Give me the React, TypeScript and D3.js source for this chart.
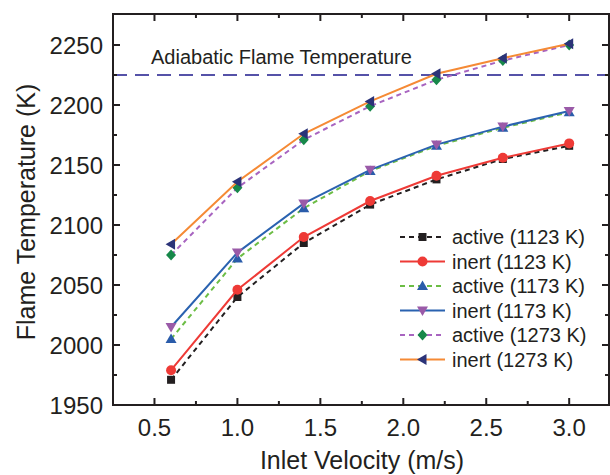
import React from "react";
import * as d3 from "d3";

const velocities = [0.6, 1.0, 1.4, 1.8, 2.2, 2.6, 3.0];
const active1123 = [1971, 2040, 2085, 2117, 2138, 2155, 2166];
const inert1123 = [1979, 2046, 2090, 2120, 2141, 2156, 2168];
const active1173 = [2005, 2072, 2114, 2145, 2166, 2181, 2194];
const inert1173 = [2015, 2077, 2118, 2146, 2167, 2182, 2195];
const active1273 = [2075, 2131, 2171, 2199, 2221, 2237, 2250];
const inert1273 = [2084, 2136, 2176, 2203, 2226, 2239, 2251];
const seriesNames = [
  "active (1123 K)",
  "inert (1123 K)",
  "active (1173 K)",
  "inert (1173 K)",
  "active (1273 K)",
  "inert (1273 K)",
];
const adiabaticTemp = 2225;
const xTicks = [0.5, 1.0, 1.5, 2.0, 2.5, 3.0];
const yTicks = [1950, 2000, 2050, 2100, 2150, 2200, 2250];

type Shape = "square" | "circle" | "up" | "down" | "diamond" | "left";
const seriesStyle: { line: string; dash: string | null; marker: string; shape: Shape }[] = [
  { line: "#231f20", dash: "5,4", marker: "#231f20", shape: "square" },
  { line: "#ee3a36", dash: null, marker: "#ee3a36", shape: "circle" },
  { line: "#6cbd45", dash: "5,4", marker: "#2a5caa", shape: "up" },
  { line: "#2a62b0", dash: null, marker: "#9a5aa8", shape: "down" },
  { line: "#a864c0", dash: "5,4", marker: "#17884a", shape: "diamond" },
  { line: "#f58a35", dash: null, marker: "#2b3378", shape: "left" },
];
const seriesValues = [active1123, inert1123, active1173, inert1173, active1273, inert1273];

const FONT = "'Liberation Sans', Arial, Helvetica, sans-serif";
const TXT = "#231f20";

function markerPath(shape: Shape, cx: number, cy: number): string {
  switch (shape) {
    case "square":
      return `M${cx - 4},${cy - 4}h8v8h-8z`;
    case "up":
      return `M${cx},${cy - 5.5}L${cx + 5.5},${cy + 4}L${cx - 5.5},${cy + 4}Z`;
    case "down":
      return `M${cx},${cy + 5.5}L${cx + 5.5},${cy - 4}L${cx - 5.5},${cy - 4}Z`;
    case "diamond":
      return `M${cx},${cy - 5.5}L${cx + 5},${cy}L${cx},${cy + 5.5}L${cx - 5},${cy}Z`;
    case "left":
      return `M${cx - 5.5},${cy}L${cx + 4},${cy - 5.5}L${cx + 4},${cy + 5.5}Z`;
    default:
      return "";
  }
}

function Marker({ shape, x, y, color }: { shape: Shape; x: number; y: number; color: string }) {
  if (shape === "circle") return <circle cx={x} cy={y} r={5} fill={color} />;
  return <path d={markerPath(shape, x, y)} fill={color} />;
}

export default function App() {
  const W = 610;
  const H = 475;
  const left = 113;
  const right = 609;
  const top = 15;
  const bottom = 405;

  const x = d3.scaleLinear().domain([0.25, 3.24]).range([left, right]);
  const y = d3.scaleLinear().domain([1950, 2275]).range([bottom, top]);

  const xMinor = d3.range(0.75, 3.24, 0.5);
  const yMinor = d3.range(1975, 2275, 50);

  const lineGen = d3
    .line<[number, number]>()
    .x((d) => x(d[0]))
    .y((d) => y(d[1]));

  const legendX = 400;
  const legendY0 = 237;
  const legendDy = 24.5;

  return (
    <svg
      width={W}
      height={H}
      style={{ position: "absolute", left: 0, top: 0, background: "#fff" }}
      fontFamily={FONT}
    >
      <rect width={W} height={H} fill="#fff" />
      {/* adiabatic line */}
      <line
        x1={left}
        x2={right}
        y1={y(adiabaticTemp)}
        y2={y(adiabaticTemp)}
        stroke="#5552a8"
        strokeWidth={2}
        strokeDasharray="14,8"
      />
      <text x={151} y={64} fontSize={20} fill={TXT}>
        Adiabatic Flame Temperature
      </text>

      {/* series */}
      {seriesValues.map((vals, i) => {
        const st = seriesStyle[i];
        const pts: [number, number][] = velocities.map((v, j) => [v, vals[j]]);
        return (
          <g key={i}>
            <path
              d={lineGen(pts) || ""}
              fill="none"
              stroke={st.line}
              strokeWidth={2}
              strokeDasharray={st.dash || undefined}
            />
            {pts.map((p, j) => (
              <Marker key={j} shape={st.shape} x={x(p[0])} y={y(p[1])} color={st.marker} />
            ))}
          </g>
        );
      })}

      {/* frame */}
      <rect
        x={left}
        y={top - 1}
        width={right - left}
        height={bottom - top + 1}
        fill="none"
        stroke={TXT}
        strokeWidth={2}
      />
      {/* x ticks */}
      {xTicks.map((t) => (
        <g key={"xt" + t}>
          <line x1={x(t)} x2={x(t)} y1={bottom} y2={bottom - 7} stroke={TXT} strokeWidth={2} />
          <line x1={x(t)} x2={x(t)} y1={top - 1} y2={top + 6} stroke={TXT} strokeWidth={2} />
          <text x={x(t)} y={436} fontSize={24} textAnchor="middle" fill={TXT}>
            {t.toFixed(1)}
          </text>
        </g>
      ))}
      {xMinor.map((t) => (
        <g key={"xm" + t}>
          <line x1={x(t)} x2={x(t)} y1={bottom} y2={bottom - 4} stroke={TXT} strokeWidth={2} />
          <line x1={x(t)} x2={x(t)} y1={top - 1} y2={top + 3} stroke={TXT} strokeWidth={2} />
        </g>
      ))}
      {/* y ticks */}
      {yTicks.map((t) => (
        <g key={"yt" + t}>
          <line x1={left} x2={left + 7} y1={y(t)} y2={y(t)} stroke={TXT} strokeWidth={2} />
          <line x1={right} x2={right - 7} y1={y(t)} y2={y(t)} stroke={TXT} strokeWidth={2} />
          <text x={103} y={y(t) + 8.5} fontSize={24} textAnchor="end" fill={TXT}>
            {t}
          </text>
        </g>
      ))}
      {yMinor.map((t) => (
        <g key={"ym" + t}>
          <line x1={left} x2={left + 4} y1={y(t)} y2={y(t)} stroke={TXT} strokeWidth={2} />
          <line x1={right} x2={right - 4} y1={y(t)} y2={y(t)} stroke={TXT} strokeWidth={2} />
        </g>
      ))}

      {/* axis titles */}
      <text x={362} y={469} fontSize={25} textAnchor="middle" fill={TXT}>
        Inlet Velocity (m/s)
      </text>
      <text
        transform={`translate(35,${(top + bottom) / 2 + 2}) rotate(-90)`}
        fontSize={25}
        textAnchor="middle"
        fill={TXT}
      >
        Flame Temperature (K)
      </text>

      {/* legend */}
      {seriesNames.map((name, i) => {
        const st = seriesStyle[i];
        const ly = legendY0 + i * legendDy;
        return (
          <g key={"lg" + i}>
            <line
              x1={legendX}
              x2={legendX + 45}
              y1={ly}
              y2={ly}
              stroke={st.line}
              strokeWidth={2}
              strokeDasharray={st.dash || undefined}
            />
            <Marker shape={st.shape} x={legendX + 22.5} y={ly} color={st.marker} />
            <text x={452} y={ly + 7} fontSize={20} fill={TXT}>
              {name}
            </text>
          </g>
        );
      })}
    </svg>
  );
}
